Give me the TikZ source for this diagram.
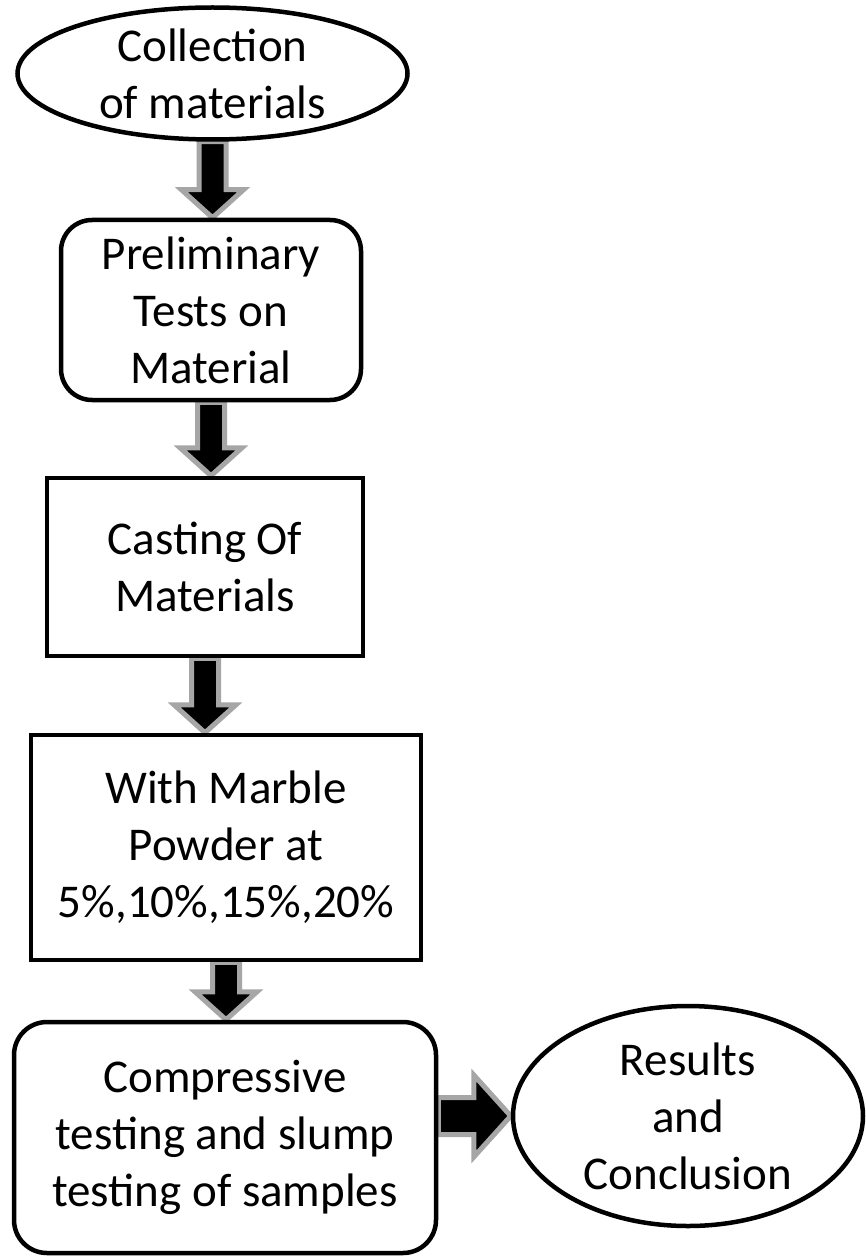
\documentclass[tikz,border=0pt]{standalone}
\usepackage{fontspec}
\setmainfont{Carlito}
\usetikzlibrary{shapes.geometric,calc,backgrounds}
\definecolor{arrowgray}{HTML}{A6A6A6}
\tikzset{
  txt/.style={font=\fontsize{47}{57}\selectfont, align=center, inner sep=0pt},
  oval/.style={ellipse, draw, line width=4.5pt, fill=white, inner sep=0pt},
  stepbox/.style={rectangle, draw, line width=4.5pt, fill=white, txt},
  roundbox/.style={stepbox, rounded corners=31pt},
  blockarrow/.style={fill=black, draw=arrowgray, line width=5pt, line join=miter},
}
% thick block arrow pointing down from #1 to #2
\newcommand\blockdown[2]{%
  \path[blockarrow] let \p1=(#1.south), \p2=(#2.north) in
    ({\x1-13.5pt},\y1) -- ({\x1-13.5pt},{\y2+28pt}) -- ({\x1-31pt},{\y2+28pt})
    -- (\x1,\y2) -- ({\x1+31pt},{\y2+28pt}) -- ({\x1+13.5pt},{\y2+28pt})
    -- ({\x1+13.5pt},\y1) -- cycle;}
\begin{document}
\begin{tikzpicture}[x=1pt,y=-1pt]
  \useasboundingbox (0,0) rectangle (865,1257);

  % process steps
  \node[oval, minimum width=390pt, minimum height=132pt] (collect) at (212.5,73.5) {};
  \node[txt] (collecttxt) at (collect.center) {Collection\\of materials};

  \node[roundbox, minimum width=300pt, minimum height=180pt] (prelim) at (211,310)
    {Preliminary\\Tests on\\Material};

  \node[stepbox, minimum width=316pt, minimum height=178pt] (casting) at (205,567)
    {Casting Of\\Materials};

  \node[stepbox, minimum width=390pt, minimum height=225pt] (marble) at (226,847.5)
    {With Marble\\Powder at\\5\%,10\%,15\%,20\%};

  \node[roundbox, rounded corners=33pt, minimum width=422pt, minimum height=231pt] (compress) at (225,1137.5)
    {Compressive\\testing and slump\\testing of samples};

  \node[oval, minimum width=350pt, minimum height=220pt] (results) at (688,1116) {};
  \node[txt] (resultstxt) at (results.center) {Results\\and\\Conclusion};

  % page background and connectors, behind the steps
  \begin{pgfonlayer}{background}
    \fill[white] (0,0) rectangle (865,1257);
    \blockdown{collect}{prelim}
    \blockdown{prelim}{casting}
    \blockdown{casting}{marble}
    \blockdown{marble}{compress}
    \path[blockarrow] let \p1=(compress.east), \p2=(results.west) in
      (\x1,{\y2+18.5pt}) -- ({\x2-37pt},{\y2+18.5pt}) -- ({\x2-37pt},{\y2+41pt})
      -- (\x2,\y2) -- ({\x2-37pt},{\y2-41pt}) -- ({\x2-37pt},{\y2-18.5pt})
      -- (\x1,{\y2-18.5pt}) -- cycle;
  \end{pgfonlayer}
\end{tikzpicture}
\end{document}
